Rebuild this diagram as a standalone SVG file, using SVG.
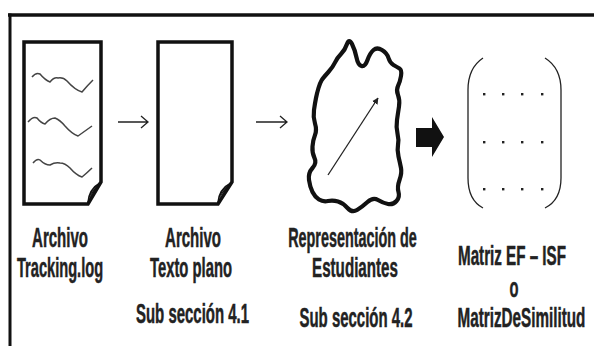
<svg xmlns="http://www.w3.org/2000/svg" width="594" height="346" viewBox="0 0 594 346">
<defs>
<style>
.doc{fill:#fff;stroke:#111;stroke-width:3.5;stroke-linejoin:miter}
.wave{fill:none;stroke:#444;stroke-width:1.5;stroke-linejoin:round}
.curl{fill:none;stroke:#111;stroke-width:1.8}
.thin{fill:none;stroke:#222;stroke-width:1.3}
.lbl{font-family:"Liberation Sans",Arial,sans-serif;font-weight:bold;font-size:27px;fill:#222;stroke:#222;stroke-width:0.5;text-anchor:middle}
.dot{fill:#222}
</style>
<marker id="tri" viewBox="0 0 10 10" refX="9" refY="5" markerWidth="5" markerHeight="5" orient="auto">
<path d="M0,0 L10,5 L0,10 Z" fill="#222"/>
</marker>
</defs>
<rect width="594" height="346" fill="#fff"/>
<g id="frame">
<line x1="8" y1="15" x2="594" y2="15" stroke="#111" stroke-width="3.5"/>
<line x1="10" y1="13.5" x2="10" y2="346" stroke="#111" stroke-width="3"/>
</g>
<g id="node-tracking">
<path class="doc" d="M24,42 L101,42 L101,182 L88,204 L24,204 Z"/>
<path class="curl" d="M88,203 Q89,189 100,183"/>
<path d="M89,200 Q91,190 99,184 L96,189 Q92,193 89,200 Z" fill="#111"/>
<path class="wave" d="M32,77 Q36,72 40,74 Q45,80 50,82 Q54,77 58,78 Q63,77 67,81 Q75,90 82,92 Q87,86 93,80"/>
<path class="wave" d="M28,122 Q33,116 37,118 Q41,123 45,124 Q50,118 55,118 Q60,120 65,126 Q72,134 78,136 Q85,131 92,126"/>
<path class="wave" d="M33,163 Q37,158 40,160 Q45,165 50,165 Q55,162 60,163 Q65,163 70,168 Q76,175 82,177 Q88,172 92,168"/>
<text class="lbl" transform="translate(60,247) scale(0.557,1)">Archivo</text>
<text class="lbl" transform="translate(60,277) scale(0.542,1)">Tracking.log</text>
</g>
<g id="node-texto">
<path class="doc" d="M158,42 L232,42 L232,182 L218,204 L158,204 Z"/>
<path class="curl" d="M218,203 Q219,189 231,183"/>
<path d="M219,200 Q221,190 230,184 L227,189 Q222,193 219,200 Z" fill="#111"/>
<text class="lbl" transform="translate(193,247) scale(0.557,1)">Archivo</text>
<text class="lbl" transform="translate(191,277) scale(0.548,1)">Texto plano</text>
<text class="lbl" transform="translate(192.5,323) scale(0.554,1)">Sub sección 4.1</text>
</g>
<g id="node-representacion">
<path d="M321.5,80.5 Q323,78 328,72.5 Q333,67 335,62.5 Q337,58 341,54 Q345,50 347,44 Q349,38 352,44 Q355,50 356.5,57.5 Q358,65 361.5,66 Q365,67 367.5,60 Q370,53 373.5,50 Q377,47 382,50 Q387,53 388.5,58 Q390,63 393.5,65 Q397,67 399.5,68.5 Q402,70 401,76 Q400,82 398,86 Q396,90 398,95 Q400,100 399,106.5 Q398,113 397,120 Q396,127 397.5,133.5 Q399,140 398,145 Q397,150 398.5,156.5 Q400,163 401,168 Q402,173 399.5,180 Q397,187 398.5,192 Q400,197 396.5,201 Q393,205 388,204 Q383,203 378,200 Q373,197 367.5,202 Q362,207 357,210 Q352,213 347.5,208 Q343,203 338,201.5 Q333,200 328,201 Q323,202 319,199.5 Q315,197 312.5,192 Q310,187 309,180 Q308,173 312.5,168 Q317,163 314.5,158 Q312,153 312.5,146.5 Q313,140 315,135 Q317,130 315,123.5 Q313,117 314,110 Q315,103 316,98 Q317,93 318.5,88 Q320,83 321.5,80.5 Z" fill="#fff" stroke="#111" stroke-width="4.2" stroke-linejoin="round"/>
<line class="thin" x1="328" y1="175" x2="378" y2="98" marker-end="url(#tri)"/>
<text class="lbl" transform="translate(352.5,247) scale(0.533,1)">Representación de</text>
<text class="lbl" transform="translate(355,277) scale(0.562,1)">Estudiantes</text>
<text class="lbl" transform="translate(356,327) scale(0.554,1)">Sub sección 4.2</text>
</g>
<g id="node-matriz">
<path class="thin" d="M483,58 Q468,68 468,90 L468,178 Q468,200 483,208"/>
<path class="thin" d="M545,58 Q561,68 561,90 L561,178 Q561,200 545,208"/>
<g class="dot">
<rect x="483" y="93" width="2.4" height="2.4"/><rect x="502" y="93" width="2.4" height="2.4"/><rect x="521" y="93" width="2.4" height="2.4"/><rect x="541" y="93" width="2.4" height="2.4"/>
<rect x="483" y="141" width="2.4" height="2.4"/><rect x="502" y="141" width="2.4" height="2.4"/><rect x="521" y="141" width="2.4" height="2.4"/><rect x="541" y="141" width="2.4" height="2.4"/>
<rect x="483" y="188" width="2.4" height="2.4"/><rect x="502" y="188" width="2.4" height="2.4"/><rect x="521" y="188" width="2.4" height="2.4"/><rect x="541" y="188" width="2.4" height="2.4"/>
</g>
<text class="lbl" transform="translate(512,265) scale(0.5625,1)">Matriz EF – ISF</text>
<text class="lbl" transform="translate(514,297) scale(0.545,1)">o</text>
<text class="lbl" transform="translate(521.5,327) scale(0.565,1)">MatrizDeSimilitud</text>
</g>
<g id="connectors">
<path class="thin" d="M118,122 H147 M141,116 L148,122 L141,128"/>
<path class="thin" d="M256,122 H286 M280,116 L287,122 L280,128"/>
<path d="M416,128 L432,128 L432,117 L444,137 L432,157 L432,147 L416,147 Z" fill="#111"/>
</g>
</svg>
